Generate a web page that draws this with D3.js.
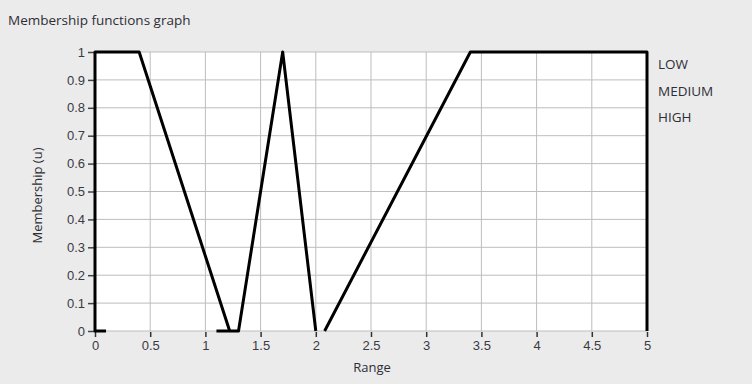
<!DOCTYPE html>
<html>
<head>
<meta charset="utf-8">
<script src="https://cdn.jsdelivr.net/npm/d3@7"></script>
<style>
	body { margin: 0; background: #ebebeb; overflow: hidden; }
	svg { display: block; font-family: 'Open Sans', 'Noto Sans', sans-serif; }
	.tick text { fill: #3a3a44; font-size: 13px; }
	.labels__text { fill: #2e2e36; font-size: 13px; }
</style>
</head>
<body>
<svg></svg>
<script>
const seriesNames = ['LOW', 'MEDIUM', 'HIGH'];
const lowX = [0.1, 0, 0, 0.4, 1.22];
const lowY = [0, 0, 1, 1, 0];
const mediumX = [1.1, 1.3, 1.7, 2.0];
const mediumY = [0, 0, 1, 0];
const highX = [2.08, 3.4, 5, 5];
const highY = [0, 1, 1, 0];
const xTicks = [0, 0.5, 1, 1.5, 2, 2.5, 3, 3.5, 4, 4.5, 5];
const yTicks = [0, 0.1, 0.2, 0.3, 0.4, 0.5, 0.6, 0.7, 0.8, 0.9, 1];

const zip = (xs, ys) => xs.map((x, i) => ({ x, y: ys[i] }));
const series = [zip(lowX, lowY), zip(mediumX, mediumY), zip(highX, highY)];

const width = 752;
const height = 384;
const margin = { top: 52, right: 105, bottom: 53, left: 95 };
const innerWidth = width - margin.left - margin.right;
const innerHeight = height - margin.top - margin.bottom;

const svg = d3.select('svg')
	.attr('width', width)
	.attr('height', height);

svg.append('text')
	.attr('x', 8)
	.attr('y', 25)
	.attr('class', 'labels__text')
	.style('font-size', '13.5px')
	.text('Membership functions graph');

const xScale = d3.scaleLinear().domain([0, 5]).range([0, innerWidth]);
const yScale = d3.scaleLinear().domain([0, 1]).range([innerHeight, 0]);

const g = svg.append('g')
	.attr('transform', `translate(${margin.left},${margin.top})`);

g.append('rect')
	.attr('width', innerWidth)
	.attr('height', innerHeight)
	.attr('fill', '#fff');

// grid
g.append('g')
	.selectAll('line')
	.data(xTicks)
	.join('line')
	.attr('x1', d => xScale(d)).attr('x2', d => xScale(d))
	.attr('y1', 0).attr('y2', innerHeight)
	.attr('stroke', '#bdbdbd');

g.append('g')
	.selectAll('line')
	.data(yTicks)
	.join('line')
	.attr('y1', d => yScale(d)).attr('y2', d => yScale(d))
	.attr('x1', 0).attr('x2', innerWidth)
	.attr('stroke', '#bdbdbd');

const xAxis = d3.axisBottom(xScale)
	.tickValues(xTicks)
	.tickFormat(d3.format('~g'))
	.tickSize(5)
	.tickPadding(4);

const yAxis = d3.axisLeft(yScale)
	.tickValues(yTicks)
	.tickFormat(d3.format('~g'))
	.tickSize(6)
	.tickPadding(3);

const xAxisGroup = g.append('g')
	.attr('transform', `translate(0, ${innerHeight + 1})`)
	.call(xAxis);
xAxisGroup.select('.domain').remove();
xAxisGroup.selectAll('.tick line').attr('stroke', '#333').attr('stroke-width', 1.5);

const yAxisGroup = g.append('g')
	.attr('transform', 'translate(-1, 0)')
	.call(yAxis);
yAxisGroup.select('.domain').remove();
yAxisGroup.selectAll('.tick line').attr('stroke', '#444').attr('stroke-width', 1.5);

g.append('text')
	.attr('x', innerWidth / 2 + 1)
	.attr('y', innerHeight + 41)
	.attr('class', 'labels__text')
	.attr('text-anchor', 'middle')
	.text('Range');

g.append('text')
	.attr('transform', 'rotate(-90)')
	.attr('x', -innerHeight / 2 - 4)
	.attr('y', -53)
	.attr('class', 'labels__text')
	.attr('text-anchor', 'middle')
	.text('Membership (u)');

const lineGenerator = d3.line()
	.x(d => xScale(d.x))
	.y(d => yScale(d.y));

g.append('g')
	.selectAll('path')
	.data(series)
	.join('path')
	.attr('d', lineGenerator)
	.attr('fill', 'none')
	.attr('stroke', '#000')
	.attr('stroke-width', 3)
	.attr('stroke-linejoin', 'round');

// legend
svg.append('g')
	.selectAll('text')
	.data(seriesNames)
	.join('text')
	.attr('class', 'labels__text')
	.style('font-size', '13.5px')
	.attr('x', 658)
	.attr('y', (d, i) => 69 + i * 26.5)
	.text(d => d);
</script>
</body>
</html>
